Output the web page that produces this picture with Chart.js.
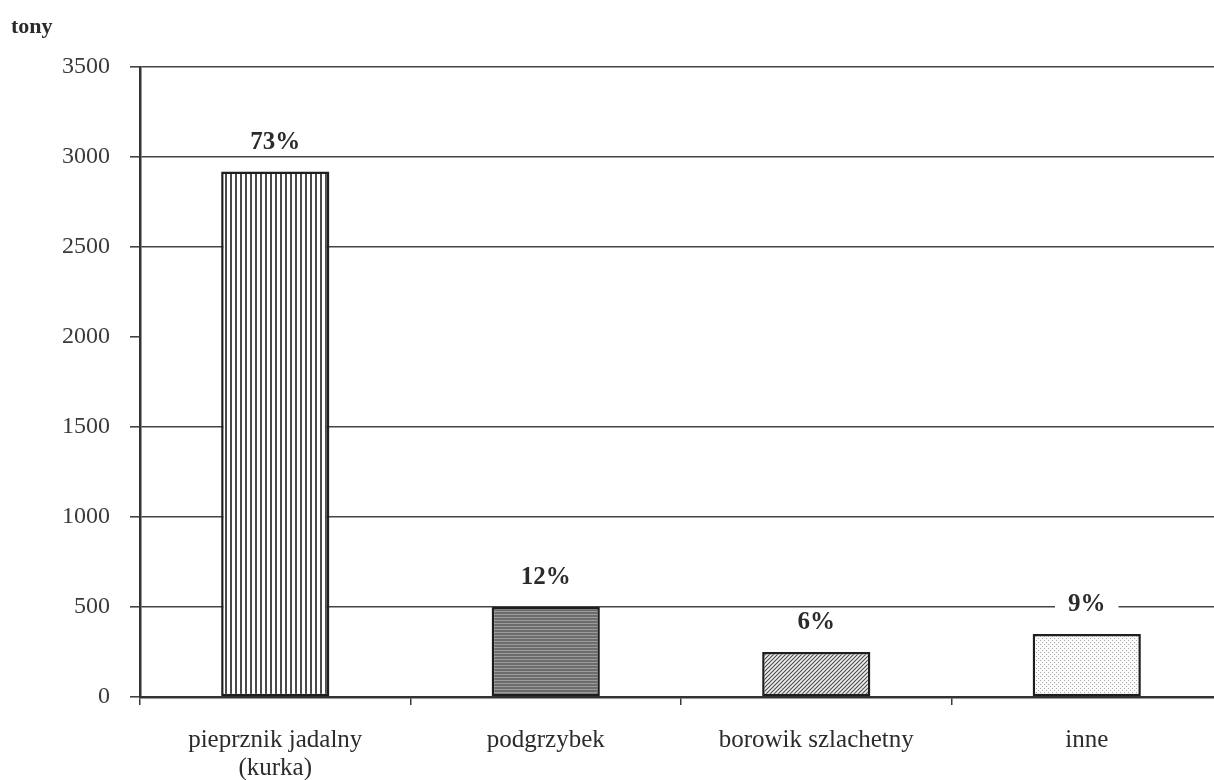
<!DOCTYPE html>
<html>
<head>
<meta charset="utf-8">
<script src="https://cdn.jsdelivr.net/npm/chart.js@4/dist/chart.umd.min.js"></script>
<style>
  html, body { margin: 0; padding: 0; background: #fff; overflow: hidden; }
  #wrap { width: 1232px; height: 780px; }
</style>
</head>
<body>
<div id="wrap"><canvas id="c" width="1232" height="780"></canvas></div>
<script>
// Zbiór grzybów leśnych według gatunków (tony)
const categories = [["pieprznik jadalny", "(kurka)"], "podgrzybek", "borowik szlachetny", "inne"];
const harvestTons = [2920, 500, 250, 350];
const yTicks = [0, 500, 1000, 1500, 2000, 2500, 3000, 3500];
const unitLabel = "tony";

const total = harvestTons.reduce((a, b) => a + b, 0);
const shares = harvestTons.map(v => Math.round(v / total * 100) + "%");

const SERIF = "'Liberation Serif', 'DejaVu Serif', serif";
const INK = "#2b2b2b";

function tile(w, h, draw) {
  const c = document.createElement("canvas");
  c.width = w; c.height = h;
  const g = c.getContext("2d");
  draw(g, w, h);
  return g.createPattern(c, "repeat");
}
const ctx0 = document.getElementById("c").getContext("2d");

// wypełnienia słupków
const fills = [
  tile(5, 5, (g, w, h) => { g.fillStyle = "#fff"; g.fillRect(0, 0, w, h); g.fillStyle = "#4a4a4a"; g.fillRect(0, 0, 2, h); }),
  tile(4, 3, (g, w, h) => { g.fillStyle = "#6c6c6c"; g.fillRect(0, 0, w, h); g.fillStyle = "#9c9c9c"; g.fillRect(0, 2, w, 1); }),
  tile(4, 4, (g, w, h) => {
    g.fillStyle = "#f2f2f2"; g.fillRect(0, 0, w, h);
    g.strokeStyle = "#4d4d4d"; g.lineWidth = 1.2;
    g.beginPath();
    g.moveTo(-1, 5); g.lineTo(5, -1);
    g.moveTo(-1, 1); g.lineTo(1, -1);
    g.moveTo(3, 5); g.lineTo(5, 3);
    g.stroke();
  }),
  tile(4, 4, (g, w, h) => { g.fillStyle = "#fbfbfb"; g.fillRect(0, 0, w, h); g.fillStyle = "#a8a8a8"; g.fillRect(0, 0, 1, 1); g.fillRect(2, 2, 1, 1); })
];

// etykiety udziałów nad słupkami i opis osi
const annotate = {
  id: "annotate",
  afterDatasetsDraw(chart) {
    const ctx = chart.ctx;
    const meta = chart.getDatasetMeta(0);
    ctx.save();
    ctx.font = "bold 25px " + SERIF;
    ctx.textAlign = "center";
    ctx.textBaseline = "middle";
    meta.data.forEach((bar, i) => {
      const txt = shares[i];
      const y = bar.y - 29;
      const w = ctx.measureText(txt).width + 26;
      ctx.fillStyle = "#fff";
      ctx.fillRect(bar.x - w / 2, y - 11, w, 22);
      ctx.fillStyle = INK;
      ctx.fillText(txt, bar.x, y);
    });
    ctx.font = "bold 22px " + SERIF;
    ctx.textAlign = "left";
    ctx.fillText(unitLabel, 11, 27);
    ctx.restore();
  }
};

new Chart(ctx0, {
  type: "bar",
  data: {
    labels: categories,
    datasets: [{
      data: harvestTons,
      backgroundColor: fills,
      borderColor: "#1e1e1e",
      borderWidth: 2.5,
      borderSkipped: false,
      barPercentage: 0.4,
      categoryPercentage: 1.0
    }]
  },
  options: {
    responsive: false,
    animation: false,
    layout: { padding: { left: 0, right: 10, top: 67, bottom: 0 } },
    plugins: { legend: { display: false }, tooltip: { enabled: false } },
    scales: {
      x: {
        offset: true,
        grid: { offset: true, drawOnChartArea: false, drawTicks: true, tickLength: 8, color: "#3a3a3a", lineWidth: 1.5 },
        border: { color: "#333", width: 2.5 },
        ticks: { color: INK, font: { family: SERIF, size: 25, lineHeight: 1.12 }, padding: 21, maxRotation: 0, autoSkip: false },
        afterFit(s) { s.height = 83; }
      },
      y: {
        min: 0, max: 3500,
        afterBuildTicks(s) { s.ticks = yTicks.map(v => ({ value: v })); },
        grid: {
          color: c => (c.tick && c.tick.value === 2000) ? "rgba(0,0,0,0)" : "#444",
          tickColor: "#444",
          lineWidth: 1.6,
          tickLength: 10
        },
        border: { color: "#333", width: 2.5 },
        ticks: { color: "#3a3a3a", font: { family: SERIF, size: 24 }, padding: 20, callback: v => String(v) },
        afterFit(s) { s.width = 140; }
      }
    }
  },
  plugins: [annotate]
});
</script>
</body>
</html>
